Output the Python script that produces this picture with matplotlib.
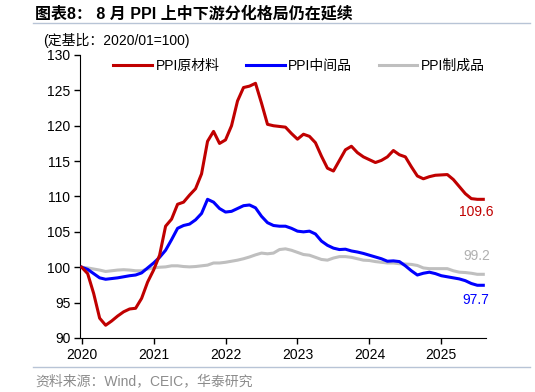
import matplotlib
matplotlib.use("Agg")
import matplotlib.pyplot as plt
from matplotlib.lines import Line2D

plt.rcParams['font.family'] = ['Liberation Sans', 'Noto Sans CJK SC']

# monthly index, 2020-01 .. 2025-08
months = list(range(68))
year_ticks = [0, 12, 24, 36, 48, 60]
year_labels = ["2020", "2021", "2022", "2023", "2024", "2025"]

raw = [100.0, 99.1, 96.3, 92.8, 91.8, 92.4, 93.1, 93.7, 94.1, 94.2, 95.6, 97.9,
       99.6, 101.7, 105.8, 106.8, 108.9, 109.2, 110.2, 111.1, 113.2, 117.8, 119.2, 117.5,
       118.0, 120.0, 123.5, 125.4, 125.6, 126.0, 123.2, 120.2, 120.0, 119.9, 119.8, 118.9,
       118.1, 118.8, 118.5, 117.6, 115.7, 114.0, 113.6, 115.1, 116.6, 117.1, 116.2, 115.6,
       115.2, 114.8, 115.1, 115.6, 116.5, 115.9, 115.6, 114.2, 112.9, 112.5, 112.8, 113.0,
       113.05, 113.1, 112.4, 111.4, 110.4, 109.7, 109.6, 109.6]

mid = [100.0, 99.7, 99.1, 98.5, 98.3, 98.4, 98.5, 98.65, 98.8, 98.9, 99.2, 99.9,
       100.6, 101.4, 102.4, 103.9, 105.5, 105.9, 106.1, 106.7, 107.6, 109.6, 109.2, 108.3,
       107.8, 107.9, 108.3, 108.7, 108.8, 108.4, 107.2, 106.3, 105.9, 105.8, 105.8, 105.5,
       105.1, 105.0, 105.1, 104.7, 103.7, 103.1, 102.7, 102.5, 102.55, 102.3, 102.15, 101.95,
       101.7, 101.45, 101.2, 100.85, 100.9, 100.8, 100.2, 99.5, 98.9, 99.15, 99.3, 99.1,
       98.8, 98.65, 98.5, 98.35, 98.1, 97.7, 97.45, 97.45]

fin = [100.0, 99.9, 99.75, 99.6, 99.4, 99.5, 99.6, 99.65, 99.6, 99.5, 99.5, 99.75,
       99.9, 100.0, 100.05, 100.2, 100.2, 100.1, 100.05, 100.1, 100.2, 100.3, 100.6, 100.6,
       100.7, 100.85, 101.0, 101.2, 101.45, 101.75, 102.0, 101.9, 102.0, 102.5, 102.6, 102.4,
       102.1, 101.8, 101.7, 101.4, 101.1, 101.0, 101.3, 101.5, 101.5, 101.4, 101.2, 101.0,
       100.95, 100.8, 100.7, 100.6, 100.6, 100.5, 100.45, 100.4, 100.25, 99.9, 99.8, 99.8,
       99.8, 99.8, 99.5, 99.3, 99.25, 99.15, 99.0, 99.0]

end_labels = ["109.6", "97.7", "99.2"]

fig = plt.figure(figsize=(5.35, 3.92), dpi=100)
ax = fig.add_axes([0.1495, 0.1378, 0.7589, 0.7219])

red, blue, grey = "#C00000", "#0000FF", "#BFBFBF"
ax.plot(months, fin, color=grey, lw=2.2, label="PPI制成品", zorder=2)
ax.plot(months, mid, color=blue, lw=2.2, label="PPI中间品", zorder=3)
ax.plot(months, raw, color=red, lw=2.2, label="PPI原材料", zorder=4)

ax.set_xlim(-0.28, 67.45)
ax.set_ylim(90, 130)
ax.set_yticks(range(90, 131, 5))
ax.set_xticks(year_ticks)
ax.set_xticklabels(year_labels)
ax.tick_params(labelsize=10, length=4, width=1, direction="out", pad=3)
for s in ["top", "right"]:
    ax.spines[s].set_visible(False)

# end-of-series labels
ax.text(months[-1] - 1.2, raw[-1] - 1.8, end_labels[0], color=red, fontsize=10, ha="center", va="center")
ax.text(months[-1] - 1.0, fin[-1] + 2.6, end_labels[2], color="#B0B0B0", fontsize=10, ha="center", va="center")
ax.text(months[-1] - 1.3, mid[-1] - 2.1, end_labels[1], color=blue, fontsize=10, ha="center", va="center")

handles = [Line2D([], [], color=red, lw=2.2),
           Line2D([], [], color=blue, lw=2.2),
           Line2D([], [], color=grey, lw=2.2)]
fig.legend(handles, ["PPI原材料", "PPI中间品", "PPI制成品"], loc="center",
           bbox_to_anchor=(299 / 535, 1 - 66 / 392), ncol=3, frameon=False,
           fontsize=10, handlelength=2.8, handletextpad=0.25, columnspacing=1.9)

fig.text(35 / 535, 1 - 14 / 392, "图表8： 8 月 PPI 上中下游分化格局仍在延续",
         fontsize=11.5, fontweight="bold", ha="left", va="center")
fig.text(43 / 535, 1 - 40 / 392, "(定基比：2020/01=100)", fontsize=10, ha="left", va="center")
fig.text(35 / 535, 1 - 381 / 392, "资料来源：Wind，CEIC，华泰研究", fontsize=10,
         color="#8C8C8C", ha="left", va="center")

fig.add_artist(Line2D([33 / 535, 530 / 535], [1 - 23 / 392] * 2, color="#B8C4D6", lw=1))
fig.add_artist(Line2D([33 / 535, 530 / 535], [1 - 367 / 392] * 2, color="#B8C4D6", lw=1))

fig.savefig("out.png", dpi=100)
